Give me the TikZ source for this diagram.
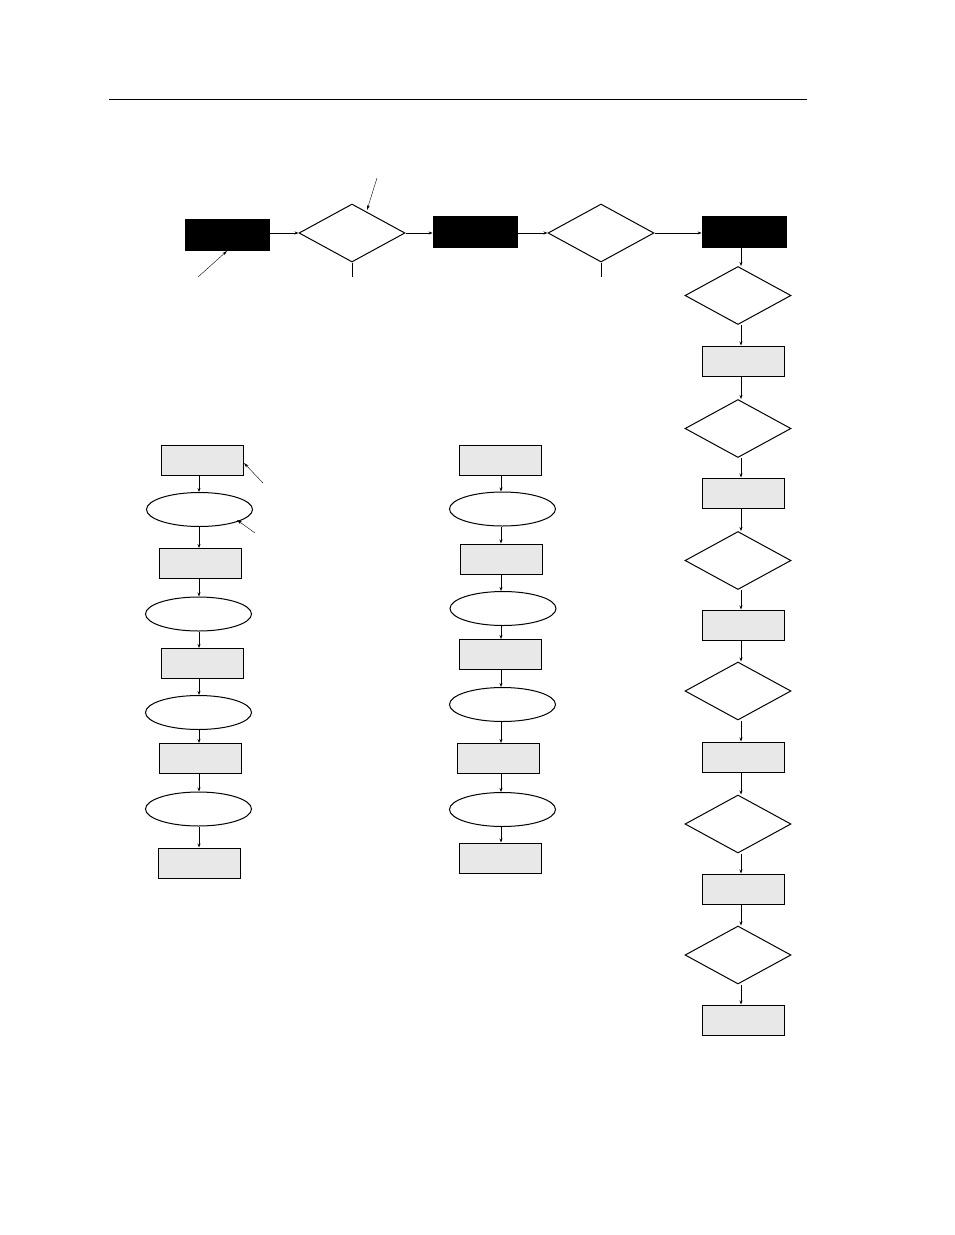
\documentclass[tikz,border=0pt]{standalone}
\usetikzlibrary{shapes.geometric,arrows.meta}
\definecolor{boxgray}{HTML}{E8E8E8}
\begin{document}
\begin{tikzpicture}[x=1pt,y=-1pt,
  blk/.style={draw=black,fill=black,minimum width=84pt,minimum height=31pt,inner sep=0pt,line width=0.8pt},
  gbox/.style={draw=black,fill=boxgray,minimum width=82pt,minimum height=30pt,inner sep=0pt,line width=1pt},
  dia/.style={diamond,draw=black,fill=white,minimum width=106pt,minimum height=58pt,inner sep=0pt,line width=1pt},
  ell/.style={ellipse,draw=black,fill=white,minimum width=106pt,minimum height=34pt,inner sep=0pt,line width=1pt},
  conn/.style={line width=0.7pt,-{Stealth[length=4pt,width=3pt]}},
  plain/.style={line width=0.9pt},
  note/.style={line width=0.4pt,-{Stealth[length=5pt,width=3pt]}}]
\useasboundingbox (0,0) rectangle (954,1235);
\coordinate (rl) at (109,99);
\coordinate (rr) at (807,99);
\draw[line width=0.6pt] (rl) -- (rr);

% top row
\node[blk] (b1) at (227,234.5) {};
\node[dia] (d1) at (352,233) {};
\node[blk] (b2) at (475,231.5) {};
\node[dia] (d2) at (601,233) {};
\node[blk] (b3) at (744,231.5) {};
\coordinate (t1) at (352,277);
\coordinate (t2) at (601,277);
\draw[conn] (b1.east |- d1.west) -- (d1.west);
\draw[conn] (d1.east) -- (b2.west |- d1.east);
\draw[conn] (b2.east |- d2.west) -- (d2.west);
\draw[conn] (d2.east) -- (b3.west |- d2.east);
\draw[plain] (d1.south) -- (t1);
\draw[plain] (d2.south) -- (t2);
\coordinate (n1) at (377,178);
\coordinate (n1e) at (367,210);
\draw[note] (n1) -- (n1e);
\coordinate (n2) at (198,277);
\coordinate (n2e) at (227,251);
\draw[note] (n2) -- (n2e);

% right column
\node[dia] (r1) at (738,295.5) {};
\node[gbox] (r2) at (743.5,361) {};
\node[dia] (r3) at (738,428.5) {};
\node[gbox] (r4) at (743.5,493) {};
\node[dia] (r5) at (738,560.5) {};
\node[gbox] (r6) at (743.5,625) {};
\node[dia] (r7) at (738,691) {};
\node[gbox] (r8) at (743.5,757) {};
\node[dia] (r9) at (738,824) {};
\node[gbox] (r10) at (743.5,889) {};
\node[dia] (r11) at (738,955) {};
\node[gbox] (r12) at (743.5,1020) {};
\foreach \a/\b in {b3/r1,r1/r2,r2/r3,r3/r4,r4/r5,r5/r6,r6/r7,r7/r8,r8/r9,r9/r10,r10/r11,r11/r12}
  \draw[conn] (\a.south -| 741,0) -- (\b.north -| 741,0);

% left column
\node[gbox] (l1) at (202,460.5) {};
\node[ell] (l2) at (199.5,509.5) {};
\node[gbox] (l3) at (200,563.5) {};
\node[ell] (l4) at (198.5,614) {};
\node[gbox] (l5) at (202,663.5) {};
\node[ell] (l6) at (198.5,712.5) {};
\node[gbox] (l7) at (200,758.5) {};
\node[ell] (l8) at (198.5,809) {};
\node[gbox] (l9) at (199,863) {};
\foreach \a/\b in {l1/l2,l2/l3,l3/l4,l4/l5,l5/l6,l6/l7,l7/l8,l8/l9}
  \draw[conn] (\a.south -| 199,0) -- (\b.north -| 199,0);
\coordinate (n3) at (263,483);
\coordinate (n3e) at (244,463);
\draw[note] (n3) -- (n3e);
\coordinate (n4) at (255,533);
\coordinate (n4e) at (237,520);
\draw[note] (n4) -- (n4e);

% middle column
\node[gbox] (m1) at (500,460.5) {};
\node[ell] (m2) at (502.5,509) {};
\node[gbox] (m3) at (501.5,559) {};
\node[ell] (m4) at (503,608.5) {};
\node[gbox] (m5) at (500,654.5) {};
\node[ell] (m6) at (502.5,704.5) {};
\node[gbox] (m7) at (498.5,758.5) {};
\node[ell] (m8) at (502.5,809.5) {};
\node[gbox] (m9) at (500,858) {};
\foreach \a/\b in {m1/m2,m2/m3,m3/m4,m4/m5,m5/m6,m6/m7,m7/m8,m8/m9}
  \draw[conn] (\a.south -| 501,0) -- (\b.north -| 501,0);
\end{tikzpicture}
\end{document}
